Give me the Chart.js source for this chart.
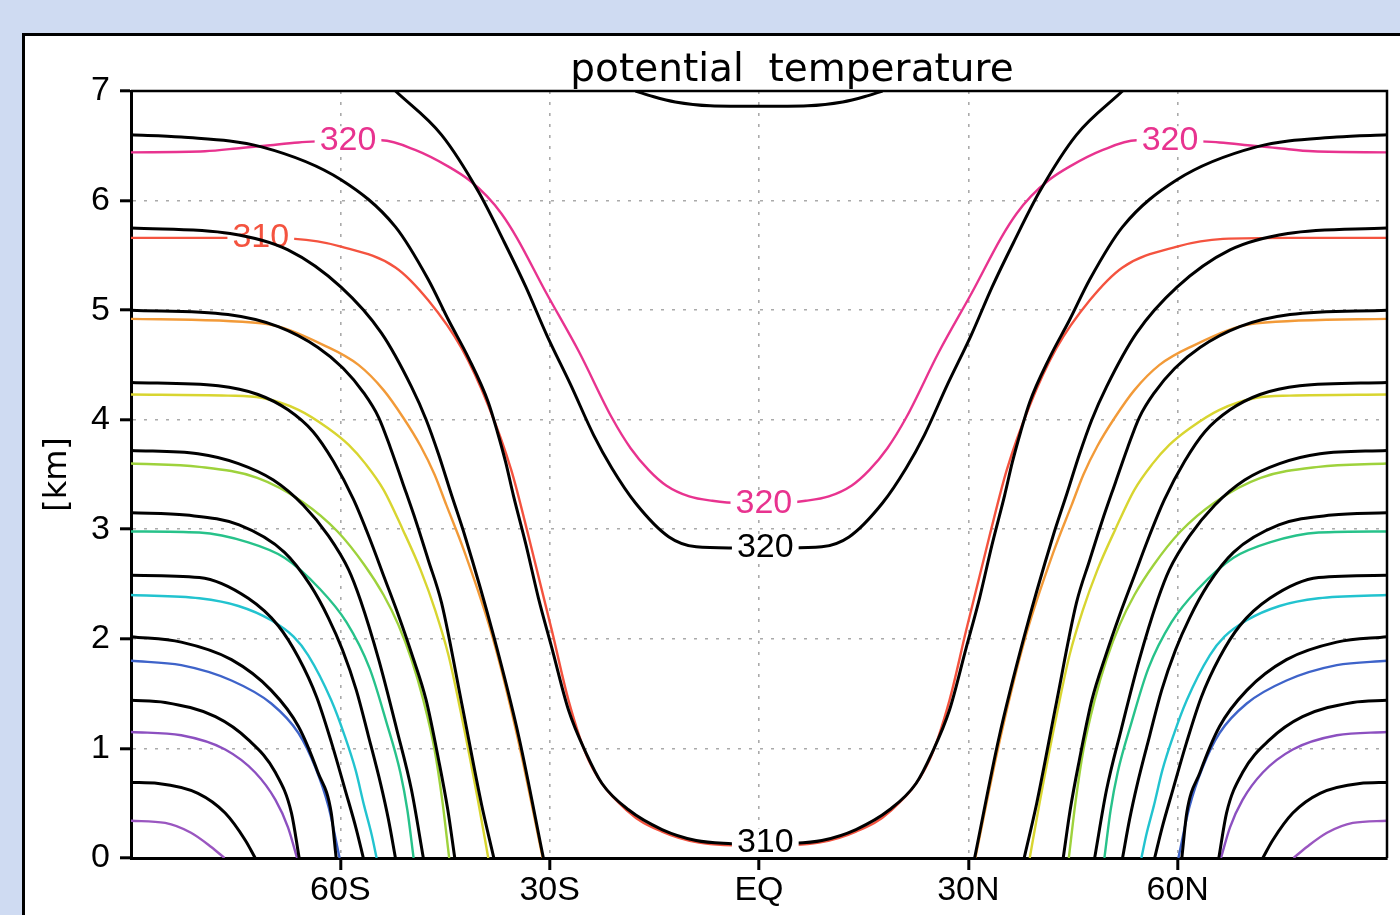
<!DOCTYPE html>
<html>
<head>
<meta charset="utf-8">
<title>potential temperature</title>
<script src="https://cdn.jsdelivr.net/npm/chart.js@4.4.0/dist/chart.umd.min.js"></script>
<style>
  html, body { margin: 0; padding: 0; }
  body { width: 1400px; height: 915px; overflow: hidden; position: relative; background: #cfdbf2; }
  #frame { position: absolute; left: 22px; top: 33px; width: 1400px; height: 900px;
           background: #fff; border-left: 3px solid #000; border-top: 3px solid #000; }
  #wrap { position: absolute; left: 0; top: 0; width: 1400px; height: 915px; }
</style>
</head>
<body>
<div id="frame"></div>
<div id="wrap"><canvas id="theta"></canvas></div>
<script>
const chartTitle = 'potential  temperature';
const axisTitle = '[km]';
const latTicks = [-90, -60, -30, 0, 30, 60, 90];
const latLabels = ['', '60S', '30S', 'EQ', '30N', '60N', ''];

// a half that ends at lat 0 crosses the equator (one U shaped line)
const black330 = [[-17.7, 7.0], [-15.2, 6.95], [-12.0, 6.9], [-7.0, 6.865], [0, 6.86]];
const black320 = [[-52.1, 7.0], [-45.5, 6.6], [-40.2, 6.08], [-36.5, 5.62], [-33.4, 5.21], [-30.4, 4.77], [-27.0, 4.32], [-23.7, 3.86], [-21.1, 3.56], [-17.7, 3.24], [-12.9, 2.93], [-9.0, 2.84], [-4.3, 2.83], [0, 2.83]];
const black310 = [[-90, 6.6], [-82.8, 6.58], [-71.3, 6.49], [-59.9, 6.19], [-52.1, 5.76], [-47.4, 5.28], [-44.5, 4.91], [-41.6, 4.56], [-38.8, 4.16], [-37.5, 3.89], [-36.3, 3.61], [-35.2, 3.31], [-33.4, 2.86], [-31.6, 2.37], [-29.7, 1.92], [-27.3, 1.35], [-24.8, 0.96], [-22.5, 0.68], [-18.7, 0.44], [-13.9, 0.26], [-9.0, 0.16], [-3.9, 0.13], [0, 0.12]];
const black300 = [[-90, 5.75], [-75.8, 5.7], [-67.5, 5.55], [-59.9, 5.21], [-54.1, 4.79], [-49.8, 4.3], [-47.7, 4.0], [-45.9, 3.68], [-44.2, 3.34], [-42.1, 2.93], [-38.0, 2.02], [-34.4, 1.1], [-30.9, 0]];
const black290 = [[-90, 5.0], [-76.1, 4.96], [-68.9, 4.85], [-63.2, 4.66], [-59.6, 4.47], [-56.7, 4.25], [-54.5, 4.02], [-52.8, 3.74], [-51.1, 3.43], [-49.2, 3.08], [-47.4, 2.72], [-45.5, 2.33], [-42.6, 1.41], [-39.8, 0.5], [-38.0, 0]];
const black280 = [[-90, 4.34], [-77.5, 4.31], [-71.8, 4.23], [-67.5, 4.09], [-63.9, 3.89], [-61.0, 3.62], [-58.1, 3.27], [-55.7, 2.9], [-53.7, 2.56], [-51.7, 2.22], [-49.7, 1.85], [-47.7, 1.44], [-45.9, 0.89], [-44.6, 0.44], [-43.6, 0]];
const black270 = [[-90, 3.72], [-80.4, 3.69], [-74.6, 3.6], [-69.6, 3.45], [-65.3, 3.22], [-61.7, 2.94], [-58.8, 2.63], [-57.1, 2.35], [-54.5, 1.81], [-51.9, 1.17], [-49.8, 0.62], [-48.1, 0]];
const black260 = [[-90, 3.15], [-82.1, 3.13], [-74.5, 3.04], [-68.0, 2.79], [-64.3, 2.49], [-61.7, 2.19], [-59.7, 1.9], [-57.7, 1.53], [-56.0, 1.12], [-54.2, 0.67], [-53.1, 0.35], [-52.1, 0]];
const black250 = [[-90, 2.58], [-80.2, 2.56], [-73.2, 2.37], [-68.9, 2.12], [-66.0, 1.83], [-63.4, 1.47], [-61.3, 1.06], [-59.3, 0.62], [-57.7, 0.26], [-56.7, 0]];
const black240 = [[-90, 2.02], [-82.8, 1.97], [-75.6, 1.81], [-69.9, 1.53], [-66.0, 1.2], [-63.2, 0.78], [-61.3, 0.41], [-60.6, 0]];
const black230 = [[-90, 1.44], [-85.1, 1.42], [-77.9, 1.29], [-73.2, 1.08], [-69.3, 0.78], [-67.0, 0.41], [-65.9, 0]];
const black220 = [[-90, 0.69], [-86.1, 0.68], [-80.4, 0.59], [-76.5, 0.41], [-73.6, 0.16], [-72.2, 0]];

const colour320 = [[-90, 6.44], [-79.4, 6.45], [-74.2, 6.48], [-70.8, 6.5], [-66.0, 6.53], [-63.2, 6.54], [-58.8, 6.55], [-54.1, 6.55], [-49.2, 6.46], [-44.5, 6.31], [-41.6, 6.19], [-39.0, 6.04], [-36.9, 5.88], [-34.7, 5.66], [-30.6, 5.17], [-25.8, 4.62], [-21.1, 4.02], [-18.4, 3.74], [-15.8, 3.54], [-13.3, 3.4], [-10.0, 3.3], [-6.7, 3.26], [-2.9, 3.24], [0, 3.24]];
const colour310 = [[-90, 5.66], [-76.1, 5.66], [-66.5, 5.65], [-59.9, 5.58], [-52.1, 5.39], [-47.4, 5.09], [-42.6, 4.65], [-38.8, 4.13], [-35.5, 3.54], [-33.0, 2.93], [-29.7, 2.08], [-27.3, 1.44], [-24.4, 0.89], [-18.7, 0.42], [-13.9, 0.24], [-8.6, 0.14], [0, 0.11]];
const colour300 = [[-90, 4.92], [-71.3, 4.88], [-61.7, 4.66], [-57.4, 4.5], [-53.8, 4.27], [-51.0, 4.02], [-48.5, 3.76], [-46.5, 3.5], [-44.8, 3.22], [-42.3, 2.81], [-38.2, 2.02], [-34.6, 1.1], [-31.0, 0]];
const colour290 = [[-90, 4.23], [-76.1, 4.22], [-71.3, 4.2], [-66.0, 4.09], [-61.7, 3.92], [-58.8, 3.77], [-56.3, 3.59], [-53.8, 3.36], [-51.0, 2.99], [-48.5, 2.63], [-46.4, 2.26], [-44.5, 1.85], [-42.8, 1.35], [-40.2, 0.5], [-38.8, 0]];
const colour280 = [[-90, 3.6], [-80.2, 3.57], [-71.9, 3.47], [-65.4, 3.25], [-60.4, 2.98], [-56.5, 2.67], [-53.8, 2.4], [-51.7, 2.13], [-49.8, 1.81], [-48.1, 1.44], [-46.5, 0.99], [-45.4, 0.53], [-44.4, 0]];
const colour270 = [[-90, 2.98], [-80.2, 2.97], [-73.2, 2.88], [-68.0, 2.74], [-63.0, 2.46], [-59.1, 2.15], [-55.8, 1.73], [-53.4, 1.24], [-51.4, 0.78], [-50.4, 0.44], [-49.5, 0]];
const colour260 = [[-90, 2.4], [-80.2, 2.37], [-74.6, 2.3], [-69.9, 2.17], [-66.7, 2.02], [-64.6, 1.85], [-61.3, 1.44], [-59.4, 1.12], [-57.8, 0.8], [-56.6, 0.48], [-55.5, 0.21], [-54.8, 0]];
const colour250 = [[-90, 1.8], [-82.8, 1.76], [-75.6, 1.62], [-69.9, 1.41], [-66.0, 1.14], [-63.6, 0.83], [-61.7, 0.47], [-60.1, 0]];
const colour240 = [[-90, 1.15], [-82.8, 1.12], [-76.5, 0.99], [-72.2, 0.78], [-69.3, 0.53], [-67.5, 0.28], [-66.2, 0]];
const colour230 = [[-90, 0.34], [-85.1, 0.32], [-81.4, 0.23], [-78.5, 0.1], [-76.6, 0]];

const blackLevels = [330, 320, 310, 300, 290, 280, 270, 260, 250, 240, 230, 220];
const blackLines = [black330, black320, black310, black300, black290, black280, black270, black260, black250, black240, black230, black220];
const colourLevels = [320, 310, 300, 290, 280, 270, 260, 250, 240, 230];
const colourLines = [colour320, colour310, colour300, colour290, colour280, colour270, colour260, colour250, colour240, colour230];

// [set, level, lat, km] of the contour labels
const contourLabels = [
    ['colour', 320, -58.9, 6.56],
    ['colour', 320, 58.9, 6.56],
    ['colour', 310, -71.4, 5.67],
    ['colour', 320, 0.7, 3.24],
    ['black', 320, 0.9, 2.84],
    ['black', 310, 0.9, 0.15]
];

const colourOf = {
    320: '#e8338f', 310: '#f4533f', 300: '#f29a38', 290: '#d8d530', 280: '#9ed23c',
    270: '#27c28a', 260: '#22c3cf', 250: '#3e63c9', 240: '#8c50c0', 230: '#9a56c0'
};

function halves(half) {
    const south = half.map(([lat, km]) => ({ x: lat, y: km }));
    const north = half.slice().reverse().map(([lat, km]) => ({ x: -lat, y: km }));
    if (half[half.length - 1][0] === 0) {
        return [south.concat(north.slice(1))];
    }
    return [south, north];
}

const datasets = [];
blackLevels.forEach((level, i) => {
    const parts = halves(blackLines[i]);
    parts.forEach(data => datasets.push({
        data, set: 'black', level, crossesEq: parts.length === 1,
        borderColor: '#000', borderWidth: 3
    }));
});
colourLevels.forEach((level, i) => {
    const parts = halves(colourLines[i]);
    parts.forEach(data => datasets.push({
        data, set: 'colour', level, crossesEq: parts.length === 1,
        borderColor: colourOf[level], borderWidth: 2.4
    }));
});

const labelFont = '34px "Liberation Sans", Arial, sans-serif';

const contourLabelPlugin = {
    id: 'contourLabels',
    afterDatasetDraw(chart, args) {
        const ds = chart.data.datasets[args.index];
        if (!ds.crossesEq) return;
        const { ctx, scales } = chart;
        ctx.save();
        ctx.font = labelFont;
        ctx.textAlign = 'center';
        ctx.textBaseline = 'middle';
        contourLabels.forEach(([set, level, lat, km]) => {
            if (set !== ds.set || level !== ds.level) return;
            const x = scales.x.getPixelForValue(lat);
            const y = scales.y.getPixelForValue(km);
            const text = String(level);
            const w = ctx.measureText(text).width;
            ctx.fillStyle = '#fff';
            ctx.fillRect(x - w / 2 - 5, y - 13, w + 10, 26);
            ctx.fillStyle = ds.borderColor;
            ctx.fillText(text, x, y + 1);
        });
        ctx.restore();
    }
};

const framePlugin = {
    id: 'frame',
    afterDatasetsDraw(chart) {
        const { ctx, chartArea: a } = chart;
        ctx.save();
        ctx.strokeStyle = '#000';
        ctx.lineWidth = 2.5;
        ctx.beginPath();
        ctx.moveTo(a.left, a.top);
        ctx.lineTo(a.right, a.top);
        ctx.lineTo(a.right, a.bottom);
        ctx.stroke();
        ctx.restore();
    },
    afterDraw(chart) {
        const { ctx, chartArea: a } = chart;
        ctx.save();
        ctx.font = '39px "DejaVu Sans", sans-serif';
        ctx.fillStyle = '#000';
        ctx.textAlign = 'center';
        ctx.textBaseline = 'alphabetic';
        ctx.fillText(chartTitle, (a.left + a.right) / 2 + 33, 81);
        ctx.restore();
    }
};

const gridGrey = '#aaaaaa';
const tickFont = { family: '"Liberation Sans", Arial, sans-serif', size: 34 };

new Chart(document.getElementById('theta'), {
    type: 'line',
    data: { datasets },
    options: {
        responsive: true,
        maintainAspectRatio: false,
        animation: false,
        events: [],
        layout: { padding: { left: 30, top: 91, right: 13, bottom: 0 } },
        elements: {
            point: { radius: 0 },
            line: { cubicInterpolationMode: 'monotone', fill: false }
        },
        plugins: {
            legend: { display: false },
            tooltip: { enabled: false },
            title: { display: false }
        },
        scales: {
            x: {
                type: 'linear',
                min: -90,
                max: 90,
                afterBuildTicks: scale => { scale.ticks = latTicks.map(v => ({ value: v })); },
                afterFit: scale => { scale.height = 57; },
                ticks: {
                    color: '#000',
                    font: tickFont,
                    padding: 0,
                    maxRotation: 0,
                    autoSkip: false,
                    callback: v => latLabels[latTicks.indexOf(v)]
                },
                grid: {
                    color: c => (Math.abs(c.tick.value) === 90 ? 'rgba(0,0,0,0)' : gridGrey),
                    lineWidth: 1.6,
                    tickColor: c => (Math.abs(c.tick.value) === 90 ? 'rgba(0,0,0,0)' : '#000'),
                    tickWidth: 3,
                    tickLength: 12
                },
                border: { display: true, color: '#000', width: 3, dash: [3, 8] }
            },
            y: {
                type: 'linear',
                min: 0,
                max: 7,
                afterFit: scale => { scale.width = 101; },
                ticks: { stepSize: 1, color: '#000', font: tickFont, padding: 10 },
                grid: {
                    color: c => (c.tick.value === 0 || c.tick.value === 7 ? 'rgba(0,0,0,0)' : gridGrey),
                    lineWidth: 1.6,
                    tickColor: '#000',
                    tickWidth: 3,
                    tickLength: 11
                },
                border: { display: true, color: '#000', width: 3, dash: [3, 8] },
                title: {
                    display: true,
                    text: axisTitle,
                    color: '#000',
                    font: { family: '"DejaVu Sans", sans-serif', size: 32 },
                    padding: { top: 8, bottom: 0 }
                }
            }
        }
    },
    plugins: [contourLabelPlugin, framePlugin]
});
</script>
</body>
</html>
